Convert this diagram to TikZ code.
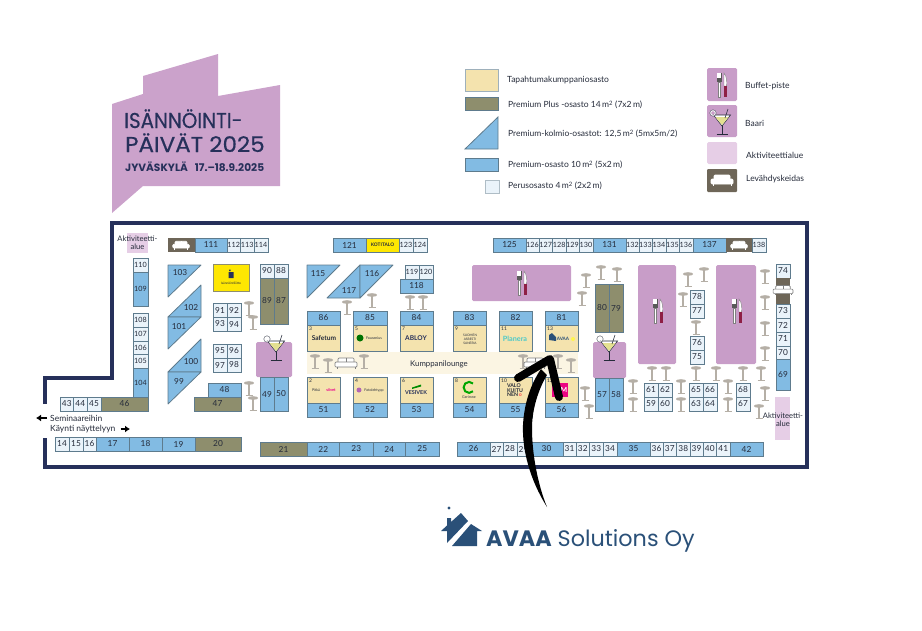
\documentclass[tikz,border=0pt]{standalone}
\usepackage{fontspec}
\setmainfont{Lato}
\newfontfamily\titlefont{Poppins}
\newfontfamily\titlemed[FakeBold=0.4]{Poppins}
\usetikzlibrary{arrows.meta}
\definecolor{edgec}{HTML}{5E7B8D}
\definecolor{bluec}{HTML}{82BBE3}
\definecolor{whitec}{HTML}{EAF3FA}
\definecolor{olivec}{HTML}{8E8E6D}
\definecolor{partnerc}{HTML}{F4E3AE}
\definecolor{lilac}{HTML}{C89DC8}
\definecolor{palelila}{HTML}{E6CEE6}
\definecolor{brownc}{HTML}{6E6658}
\definecolor{navyc}{HTML}{26305A}
\definecolor{stoolc}{HTML}{B5AFA6}
\definecolor{txtc}{HTML}{252B3A}
\definecolor{avaac}{HTML}{2A5078}
\definecolor{knifec}{HTML}{8E1F45}
\tikzset{
perus/.style={draw=edgec,fill=whitec,line width=0.8pt},
premium/.style={draw=edgec,fill=bluec,line width=0.8pt},
plus/.style={draw=edgec,fill=olivec,line width=0.8pt},
partner/.style={draw=edgec,fill=partnerc,line width=0.8pt},
num/.style={font=\fontsize{8.3}{9}\selectfont,text=txtc,inner sep=0pt},
tiny/.style={font=\fontsize{5}{5}\selectfont,text=txtc,inner sep=0pt},
legend/.style={font=\fontsize{8.5}{10}\selectfont,text=txtc,inner sep=0pt,anchor=west},
area/.style={font=\fontsize{7.6}{8.3}\selectfont,text=txtc,inner sep=0pt,align=center},
buffet/.style={fill=lilac,rounded corners=1.5pt},
bluepart/.style={font=\fontsize{3.6}{4}\selectfont,text=txtc,inner sep=0pt},
wall/.style={draw=navyc,line width=3.2pt},
sofa/.pic={
\draw[draw=#1,fill=white,line width=0.7pt,rounded corners=1pt] (-8,-5) rectangle (8,2);
\draw[draw=#1,line width=0.7pt] (0,-5) -- (0,1);
\draw[draw=#1,fill=white,line width=0.7pt,rounded corners=1pt] (-11,-1) rectangle (11,4);
\draw[draw=#1,line width=0.7pt] (-9,4) -- (-9,6) (9,4) -- (9,6);
},
forkknife/.pic={
\fill[white,draw=gray,line width=0.4pt] (-3.7,-3) rectangle (-2.3,12);
\fill[gray!70!black] (-5.5,-12) rectangle (-0.5,-3);
\foreach \t in {-4.5,-3.5,-2.5,-1.5} \draw[white,line width=0.3pt] (\t,-12) -- (\t,-7);
\fill[white,draw=gray,line width=0.4pt] (2,-12) .. controls (5,-8) and (5,-3) .. (4.6,1) -- (2,1) -- cycle;
\fill[knifec] (2,1) rectangle (4.6,12);
},
martini/.pic={
\draw[txtc,line width=0.6pt,fill=white] (-8.5,0) -- (0,11) -- (8.5,0) -- cycle;
\fill[yellow!55!olivec!60] (-6.5,2.2) -- (0,10) -- (6.5,2.2) -- cycle;
\draw[txtc,line width=0.9pt] (0,11) -- (0,19) (-5.5,19.5) -- (5.5,19.5);
\draw[white,fill=none,line width=1.2pt] (-9,-2) circle (2.6pt);
\draw[txtc,fill=none,line width=0.3pt] (-9,-2) circle (3.2pt);
\draw[txtc,line width=0.6pt] (3,3) -- (6,-6);
}
}
\begin{document}
\begin{tikzpicture}[x=1pt,y=-1pt]
\useasboundingbox (0,0) rectangle (922,630);
% event logo
\fill[lilac!95!white] (112,104) -- (143,94) -- (143,76) -- (218,54) -- (218,96) -- (280,85) -- (280,186) -- (143,186) -- (112,213) -- cycle;
\node[anchor=base west,inner sep=0pt,text=navyc,font=\titlemed\fontsize{21.5}{22}\selectfont] (title1) at (124,128) {\scalebox{0.92}[1]{ISÄNNÖINTI-}};
\node[anchor=base west,inner sep=0pt,text=navyc,font=\titlemed\fontsize{21.5}{22}\selectfont] (title2) at (125,152) {\scalebox{1.07}[1]{PÄIVÄT 2025}};
\node[anchor=base west,inner sep=0pt,text=navyc,font=\titlefont\bfseries\fontsize{10.6}{11}\selectfont] (title3) at (125,171) {JYVÄSKYLÄ\hspace{7pt}17.–18.9.2025};
% legend
\fill[draw=edgec!60,fill=partnerc] (465,69) rectangle (498,91);
\fill[draw=edgec,fill=olivec] (465,97) rectangle (498,110);
\draw[premium] (465,149) -- (498,117) -- (498,149) -- cycle;
\draw[premium] (465,158) rectangle (498,171);
\draw[perus,draw=edgec!50] (485,180) rectangle (499,193);
\node[legend] (leg1) at (507,80) {Tapahtumakumppaniosasto};
\node[legend] (leg2) at (508,105) {Premium Plus -osasto 14\,m\textsuperscript{2} (7x2\,m)};
\node[legend] (leg3) at (508,134) {Premium-kolmio-osastot: 12,5\,m\textsuperscript{2} (5mx5m/2)};
\node[legend] (leg4) at (508,165) {Premium-osasto 10\,m\textsuperscript{2} (5x2\,m)};
\node[legend] (leg5) at (508,186) {Perusosasto 4\,m\textsuperscript{2} (2x2\,m)};
\fill[buffet] (707,68) rectangle (737,101);
\fill[buffet] (707,105) rectangle (737,137);
\fill[palelila,rounded corners=1.5pt] (707,142) rectangle (737,164);
\fill[brownc,rounded corners=1pt] (707,169) rectangle (737,192);
\pic at (722,85) {forkknife};
\pic at (722,115) {martini};
\pic at (722,180) {sofa=white};
\node[legend] (leg6) at (745,86) {Buffet-piste};
\node[legend] (leg7) at (745,123) {Baari};
\node[legend] (leg8) at (746,155) {Aktiviteettialue};
\node[legend] (leg9) at (746,179) {Levähdyskeidas};
% hall
\draw[wall] (45,404) -- (45,378) -- (112,378) -- (112,223) -- (807,223) -- (807,467) -- (45,467) -- (45,438);
\fill[palelila] (127,233) rectangle (148,253);
\fill[palelila] (775,397) rectangle (790,440);
\fill[partnerc!35!white] (307,352) rectangle (578,374);
\node[area] (akt1) at (137.5,243) {Aktiviteetti-\\alue};
% bars and buffets
\fill[buffet] (256,342) rectangle (292,377);
\fill[buffet] (593,342) rectangle (626,378);
\fill[buffet] (472,265) rectangle (571,301);
\fill[buffet] (638,265) rectangle (676,364);
\fill[buffet] (716,265) rectangle (756,364);
\pic at (522,283) {forkknife};
\pic at (658,311) {forkknife};
\pic at (737,311) {forkknife};
\pic at (276,341) {martini};
\pic at (609,341) {martini};
% stools
\foreach \x/\y in {249/303,253/317,249/383,253/398,347/302,372/295,410/297,423/297,315/356,328/360,364/356,523/356,558/356,571/360,585/388,589/406,601/267,617/269,586/275,582/293,633/381,633/399,688/274,704/269,683/294,696/322,765/271,765/297,765/323,765/348,652/368,666/368,696/368,716/368,743/368,761/368,765/388,759/406,681/381,681/399,728/381,728/399}
{
\draw[shift={(\x,\y)},stoolc,line width=1.3pt] (0,0) -- (0,12) (-3.5,12.5) -- (3.5,12.5);
\fill[shift={(\x,\y)},stoolc] (0,0) ellipse (5.2pt and 1.8pt);
}
% basic booths
\foreach \xa/\xb/\ya/\yb/\num in {227/240.5/238/252/112,240.5/254/238/252/113,254/268/238/252/114,
133/148/258/272/110,133/148/313/327/108,133/148/327/341/107,133/148/341/354.5/106,133/148/354.5/368/105,
60/73.5/397/411/43,73.5/87/397/411/44,87/101/397/411/45,
260/274/264/278/90,274/288/264/278/88,
213/227/303/317/91,227/241/303/317/92,213/227/317/331/93,227/241/317/331/94,
213/227/344/358/95,227/241/344/358/96,213/227/358/372/97,227/241/358/372/98,
55/69/437/451/14,69/83/437/451/15,83/96/437/451/16,
490/503/442/456/27,503/517/442/456/28,517/530/442/456/29,563/576/442/456/31,576/589.5/442/456/32,589.5/603/442/456/33,603/617/442/456/34,
650/663/442/456/36,663/676.5/442/456/37,676.5/690/442/456/38,690/703/442/456/39,703/716.5/442/456/40,716.5/730/442/456/41,
399/413/238/252/123,413/427/238/252/124,
526/539/238/252/126,539/552.5/238/252/127,552.5/566/238/252/128,566/579/238/252/129,579/593/238/252/130,
626/639/238/252/132,639/652/238/252/133,652/666/238/252/134,666/679/238/252/135,679/693/238/252/136,752/766/238/252/138,
405/419/265/279/119,419/433/265/279/120,
690/704/290/304/78,690/704/304/318/77,690/704/336/350/76,690/704/350/364/75,
776/790/264/278/74,776/790/304/318/73,776/790/318/332/72,776/790/332/346/71,776/790/346/359.5/70,
644/658/383/397/61,658/672/383/397/62,644/658/397/411/59,658/672/397/411/60,
689/703/383/397/65,703/717/383/397/66,689/703/397/411/63,703/717/397/411/64,
736/750/383/397/68,736/750/397/411/67}
\draw[perus] (\xa,\ya) rectangle (\xb,\yb) node[midway,num] (b\num) {\ifnum\num>99 \fontsize{7.2}{8}\selectfont\fi\num};
% premium booths
\foreach \xa/\xb/\ya/\yb/\num in {195/227/238/252/111,133/148/272/306/109,133/148/368/397/104,
208/241/383/397/48,260/274/377/411/49,274/288/377/411/50,
96/129/437/451/17,129/162/437/451/18,162/195/437/451/19,
307/339.5/442/456/22,339.5/373/442/456/23,373/405.5/442/456/24,405.5/439/442/456/25,
457/490/442/456/26,530/563/442/456/30,617/650/442/456/35,730/763/442/456/42,
333/366/238/252/121,493/526/238/252/125,593/626/238/252/131,693/726/238/252/137,
400/433/279/293/118,307/340/311/325/86,353/387/311/325/85,400/433/311/325/84,453/486/311/325/83,499/532/311/325/82,545/578/311/325/81,
307/340/403/417/51,353/387/403/417/52,400/433/403/417/53,453/486/403/417/54,499/532/403/417/55,545/578/403/417/56,
595/609/378/411/57,609/623/378/411/58,776/790/359.5/390/69}
\draw[premium] (\xa,\ya) rectangle (\xb,\yb) node[midway,num] (b\num) {\ifnum\num=109 \fontsize{7.2}{8}\selectfont\fi\ifnum\num=104 \fontsize{7.2}{8}\selectfont\fi\num};
% premium plus booths
\foreach \xa/\xb/\ya/\yb/\num in {101/148/397/411/46,260/274/278/324/89,274/288/278/324/87,194/241/397/411/47,
195/241/437/451/20,260/307/442/456/21,595/609/284/332/80,609/623/284/332/79}
\draw[plus] (\xa,\ya) rectangle (\xb,\yb) node[midway,num] (b\num) {\num};
% triangles
\foreach \ax/\ay/\bx/\by/\cx/\cy/\lx/\ly/\num in {168/265/201/265/168/297/180/273/103,201/285/201/317/168/317/191/308/102,168/317/201/317/168/349/179/327/101,
201/339/201/372/168/372/191/362/100,168/372/201/372/168/404/179/381/99,
307/265/340/265/307/298/318/274/115,360/265/360/298/327/298/349/291/117,360/265/393/265/360/298/372/274/116}
{
\draw[premium,line join=round] (\ax,\ay) -- (\bx,\by) -- (\cx,\cy) -- cycle;
\node[num] (b\num) at (\lx,\ly) {\num};
}
% partner booths
\foreach \xa/\xb/\ya/\yb/\num in {307/340/325/351/3,353/387/325/351/5,400/433/325/351/7,453/486/325/351/9,499/532/325/351/11,545/578/325/351/13,
307/340/377/403/2,353/387/377/403/4,400/433/377/403/6,453/486/377/403/8,499/532/377/403/10,545/578/377/403/12}
{
\draw[partner] (\xa,\ya) rectangle (\xb,\yb);
\node[tiny,anchor=north west] (p\num) at (\xa+2,\ya+2) {\num};
}
% rest areas
\fill[brownc] (168,238) rectangle (195,252);
\fill[brownc] (726,238) rectangle (752,252);
\fill[brownc] (776,278) rectangle (790,304);
\pic[scale=0.75] at (181,245) {sofa=white};
\pic[scale=0.75] at (739,245) {sofa=white};
\pic[scale=0.9] at (783,290) {sofa=gray};
\pic at (346,363) {sofa=gray};
\pic at (535,363) {sofa=gray};
% special booths
\draw[draw=olivec,fill=yellow!90!orange,line width=0.8pt] (213,264) rectangle (249,291);
\fill[navyc] (228.5,272) rectangle (233.5,278) (229,269.5) rectangle (230.5,271);
\node[inner sep=0pt,text=txtc,font=\fontsize{3.2}{4}\selectfont] (adm) at (231,283.5) {Isännöintiliitto};
\draw[draw=edgec,fill=yellow!90!orange,line width=0.8pt] (366,238) rectangle (399,252) node[midway,inner sep=0pt,text=txtc,font=\bfseries\fontsize{4.8}{5}\selectfont] (kot) {KOTITALO};
\node[inner sep=0pt,font=\bfseries\fontsize{6.6}{8}\selectfont,text=txtc] (safe) at (324,338) {Safetum};
\fill[green!45!black] (360,338) circle (3.5pt);
\node[bluepart] (fous) at (374,338) {Fousenius};
\node[inner sep=0pt,font=\bfseries\fontsize{6.6}{8}\selectfont,text=navyc] (abl) at (416,338) {ABLOY};
\node[inner sep=0pt,align=center,text=txtc,font=\fontsize{3.2}{3.9}\selectfont] (san) at (470,339) {SUOMEN\\ASBESTI\\SANERIA};
\node[inner sep=0pt,font=\bfseries\fontsize{7.2}{9}\selectfont,text=teal!60!cyan!70!white] (plan) at (515,339) {Planera};
\fill[avaac] (549,340) -- (549,335) -- (552,333) -- (556,337) -- (556,341) -- cycle;
\node[inner sep=0pt,font=\bfseries\fontsize{4.6}{5}\selectfont,text=avaac] (ava) at (563,339) {AVAA};
\fill[yellow!70!white] (573,339) circle (2pt);
\node[bluepart] (pit) at (316,390) {Pitkä};
\node[inner sep=0pt,font=\bfseries\fontsize{4}{4}\selectfont,text=magenta] (sii) at (331,390) {siivet};
\fill[violet!60!white] (359,390) circle (2.5pt);
\node[bluepart] (fot) at (374,390) {Fotolehtypp};
\fill[green!55!black] (412,387.5) -- (421,384.5) -- (421,386.5) -- (412,389) -- cycle;
\node[inner sep=0pt,font=\bfseries\fontsize{5.4}{6}\selectfont,text=navyc] (ves) at (416,392.5) {VESIVEK};
\draw[green!65!black,line width=2pt] (473,383.5) arc (45:315:5.5pt);
\node[bluepart] (ger) at (469,397.5) {Gerimne};
\node[inner sep=0pt,align=left,text=txtc,font=\bfseries\fontsize{5.2}{4.6}\selectfont] (val) at (515,390.5) {VALO\\KUITU\\NEN{\color{red!70!white}\,o}};
\fill[magenta!90!red] (552,383) rectangle (568,397);
\node[inner sep=0pt,text=white,font=\bfseries\fontsize{7}{7}\selectfont] (mag) at (564,390) {M};
\node[area] (akt2) at (783,420) {Aktiviteetti-\\alue};
\node[num,font=\fontsize{7.8}{9}\selectfont] (lounge) at (439,364) {Kumppanilounge};
% directions
\node[legend] (semi) at (50,418) {Seminaareihin};
\node[legend] (kayn) at (50,429) {Käynti näyttelyyn};
\coordinate (semiEnd) at (36,418);
\coordinate (kaynEnd) at (130,429);
\draw[-{Latex[length=5pt,width=7pt]},line width=2.2pt] (semi.west) ++(-3,0) -- (semiEnd);
\draw[-{Latex[length=5pt,width=7pt]},line width=2.2pt] (kayn.east) ++(5,0) -- (kaynEnd);
% company logo
\fill[avaac] (441,531) -- (447,525.5) -- (447,518) -- (451,518) -- (451,522) -- (461,513) -- (468,521) -- (447,543) -- (447,531) -- cycle;
\fill[avaac] (449,508) circle (1.6pt);
\fill[avaac] (471,524) -- (482,531) -- (477,531) -- (477,546) -- (452,546) -- cycle;
\node[anchor=base west,inner sep=0pt,text=avaac,font=\titlefont\fontsize{22.3}{24}\selectfont] (avaa) at (486,546) {\textbf{AVAA} Solutions Oy};
% pointer
\coordinate (tip) at (550,359);
\coordinate (barbL) at (518,378);
\coordinate (barbR) at (559,397);
\fill[black] (547,507) .. controls (530,480) and (522,450) .. (523,425) .. controls (524,405) and (530,385) .. (541,369) -- (547,375) .. controls (538,390) and (532,410) .. (532,428) .. controls (532,455) and (538,485) .. (547,507) -- cycle;
\draw[black,line width=8pt,line cap=round,line join=round] (barbL) -- (tip) -- (barbR);
\end{tikzpicture}
\end{document}
